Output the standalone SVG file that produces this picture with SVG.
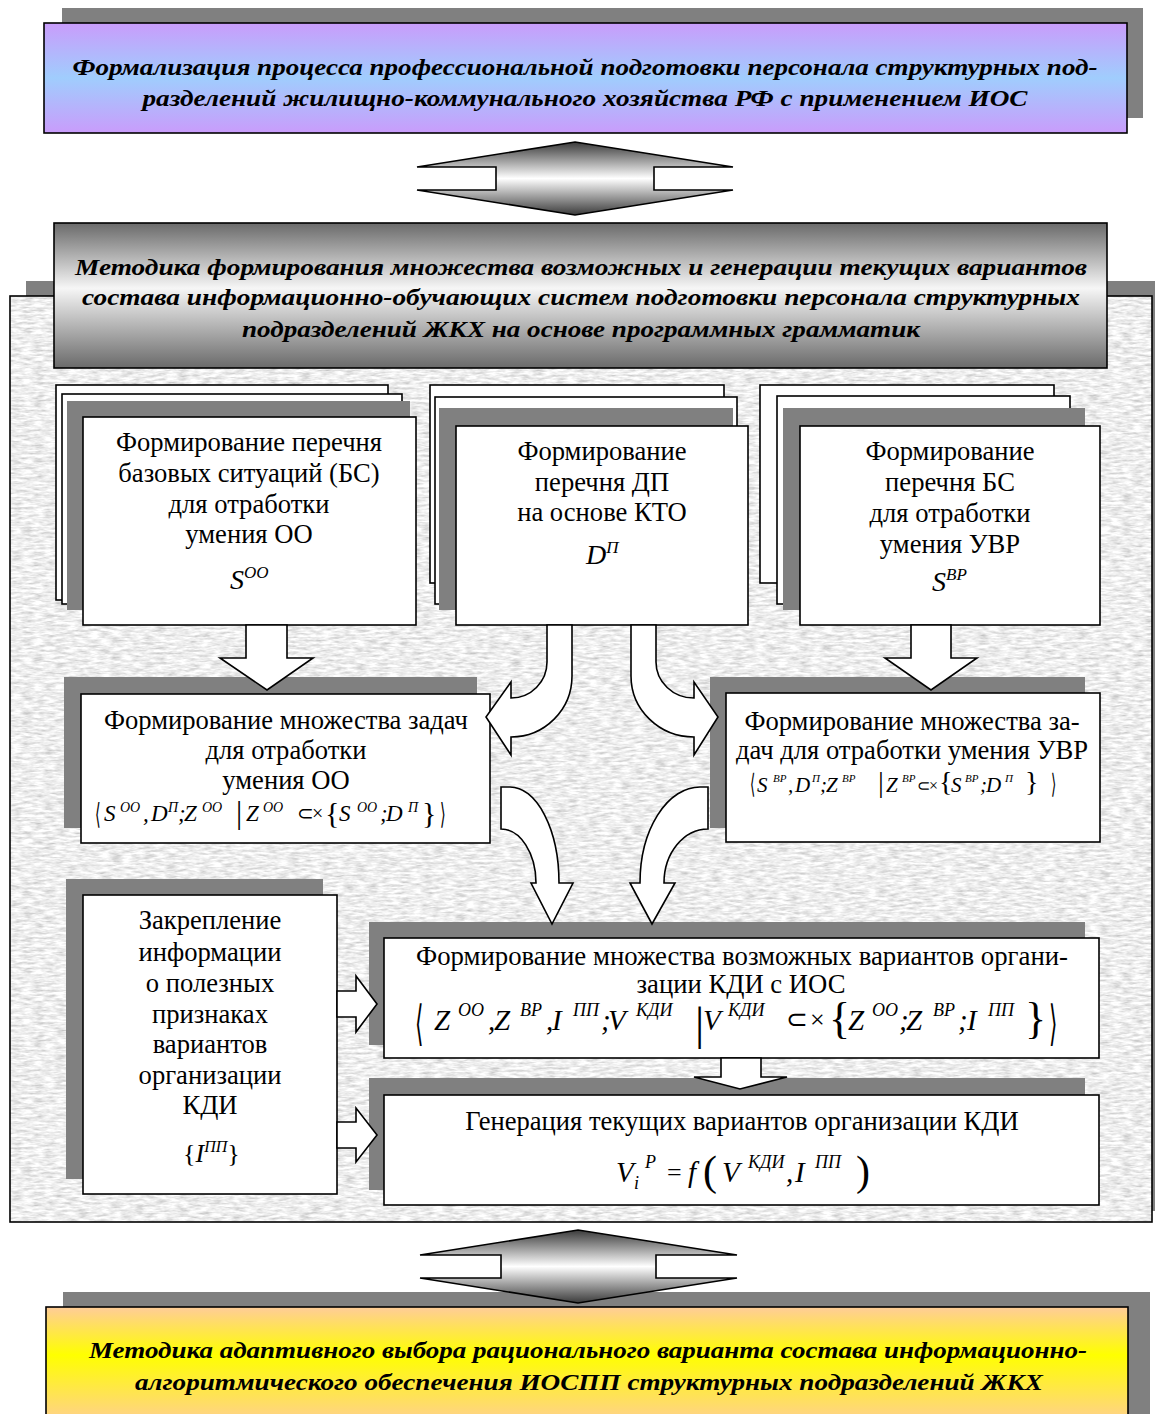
<svg xmlns="http://www.w3.org/2000/svg" width="1155" height="1414" viewBox="0 0 1155 1414">
<defs>
<style>
.box{fill:#fff;stroke:#000;stroke-width:1.6}
.sh{fill:#808080}
.ar{fill:#fff;stroke:#000;stroke-width:1.6;stroke-linejoin:miter}
.t{font-family:"Liberation Serif","Times New Roman",serif;font-size:26.6px;text-anchor:middle;fill:#000}
.bi{font-family:"Liberation Serif","Times New Roman",serif;font-size:24px;font-weight:bold;font-style:italic;text-anchor:middle;fill:#000}
.m{font-family:"Liberation Serif","Times New Roman",serif;font-style:italic;fill:#000}
.u{font-family:"Liberation Serif","Times New Roman",serif;font-style:normal;fill:#000}
.br{font-family:"DejaVu Serif",serif;font-style:normal;fill:#000}
</style>
<linearGradient id="gTop" x1="0" y1="0" x2="0" y2="1">
<stop offset="0" stop-color="#c99cfb"/><stop offset="0.5" stop-color="#a0cdfd"/><stop offset="1" stop-color="#c99cfb"/>
</linearGradient>
<linearGradient id="gGray" x1="0" y1="0" x2="0" y2="1">
<stop offset="0" stop-color="#6a6a6a"/><stop offset="0.45" stop-color="#f6f6f6"/><stop offset="1" stop-color="#6a6a6a"/>
</linearGradient>
<linearGradient id="gBot" x1="0" y1="0" x2="0" y2="1">
<stop offset="0" stop-color="#ffcc99"/><stop offset="0.4" stop-color="#ffff00"/><stop offset="1" stop-color="#ffcc99"/>
</linearGradient>
<linearGradient id="gArr" x1="0" y1="0" x2="0" y2="1">
<stop offset="0" stop-color="#3a3a3a"/><stop offset="0.5" stop-color="#ffffff"/><stop offset="1" stop-color="#3a3a3a"/>
</linearGradient>
<filter id="tex" x="0" y="0" width="1" height="1">
<feTurbulence type="fractalNoise" baseFrequency="0.09 0.4" numOctaves="3" seed="4" result="n"/>
<feColorMatrix in="n" type="matrix" values="0.75 0 0 0 0.48  0.75 0 0 0 0.48  0.75 0 0 0 0.48  0 0 0 0 1" result="g"/>
<feComposite in="g" in2="SourceGraphic" operator="in"/>
</filter>
</defs>

<g id="panel">
<rect class="sh" x="26" y="281" width="1129" height="930"/>
<rect x="10" y="296" width="1142" height="926" fill="#d9d9d9" filter="url(#tex)"/>
<rect x="10" y="296" width="1142" height="926" fill="none" stroke="#000" stroke-width="1.6"/>
</g>

<g id="top">
<rect class="sh" x="62" y="8" width="1081" height="110"/>
<rect x="44" y="23" width="1083" height="110" fill="url(#gTop)" stroke="#000" stroke-width="1.6"/>
<text class="bi" x="585" y="75" textLength="1025" lengthAdjust="spacingAndGlyphs">Формализация процесса профессиональной подготовки персонала структурных под-</text>
<text class="bi" x="585" y="106" textLength="885" lengthAdjust="spacingAndGlyphs">разделений жилищно-коммунального хозяйства РФ с применением ИОС</text>
</g>

<g id="method">
<rect x="54" y="223" width="1053" height="145" fill="url(#gGray)" stroke="#000" stroke-width="1.6"/>
<text class="bi" x="581" y="275" textLength="1012" lengthAdjust="spacingAndGlyphs">Методика формирования множества возможных и генерации текущих  вариантов</text>
<text class="bi" x="581" y="305" textLength="998" lengthAdjust="spacingAndGlyphs">состава  информационно-обучающих систем подготовки персонала структурных</text>
<text class="bi" x="581" y="337" textLength="678" lengthAdjust="spacingAndGlyphs">подразделений ЖКХ на основе программных грамматик</text>
</g>

<g id="node-bs-oo">
<rect class="box" x="56" y="385" width="332" height="215"/>
<rect class="box" x="62" y="394" width="340" height="210"/>
<rect class="sh" x="67" y="401" width="343" height="209"/>
<rect class="box" x="83" y="417" width="333" height="208"/>
<text class="t" x="249" y="451">Формирование перечня</text>
<text class="t" x="249" y="482">базовых ситуаций (БС)</text>
<text class="t" x="249" y="513">для отработки</text>
<text class="t" x="249" y="543">умения ОО</text>
<text class="m" x="230" y="589" font-size="28">S<tspan font-size="17" dy="-11">OO</tspan></text>
</g>

<g id="node-dp">
<rect class="box" x="430" y="385" width="294" height="198"/>
<rect class="box" x="435" y="397" width="302" height="207"/>
<rect class="sh" x="439" y="408" width="294" height="202"/>
<rect class="box" x="456" y="426" width="292" height="199"/>
<text class="t" x="602" y="460">Формирование</text>
<text class="t" x="602" y="491">перечня ДП</text>
<text class="t" x="602" y="521">на основе КТО</text>
<text class="m" x="586" y="564" font-size="28">D<tspan font-size="17" dy="-11">П</tspan></text>
</g>

<g id="node-bs-vr">
<rect class="box" x="760" y="385" width="294" height="198"/>
<rect class="box" x="777" y="396" width="293" height="208"/>
<rect class="sh" x="783" y="408" width="302" height="202"/>
<rect class="box" x="800" y="426" width="300" height="199"/>
<text class="t" x="950" y="460">Формирование</text>
<text class="t" x="950" y="491">перечня БС</text>
<text class="t" x="950" y="522">для отработки</text>
<text class="t" x="950" y="553">умения УВР</text>
<text class="m" x="932" y="591" font-size="28">S<tspan font-size="17" dy="-11">ВР</tspan></text>
</g>

<g id="node-tasks-oo">
<rect class="sh" x="64" y="677" width="413" height="151"/>
<rect class="box" x="81" y="694" width="409" height="149"/>
<text class="t" x="286" y="729">Формирование множества задач</text>
<text class="t" x="286" y="759">для отработки</text>
<text class="t" x="286" y="789">умения ОО</text>
<text class="br" transform="translate(95,824) scale(0.5,1)" font-size="29">⟨</text>
<text class="m" font-size="23"><tspan x="104" y="821">S</tspan><tspan x="120" y="812" font-size="14">OO</tspan><tspan x="143" y="821">,</tspan><tspan x="151" y="821">D</tspan><tspan x="168" y="812" font-size="14">П</tspan><tspan x="178" y="821">;</tspan><tspan x="184" y="821">Z</tspan><tspan x="202" y="812" font-size="14">OO</tspan><tspan x="246" y="821">Z</tspan><tspan x="263" y="812" font-size="14">OO</tspan><tspan x="339" y="821">S</tspan><tspan x="357" y="812" font-size="14">OO</tspan><tspan x="380" y="821">;</tspan><tspan x="386" y="821">D</tspan><tspan x="408" y="812" font-size="14">П</tspan></text>
<text class="u" font-size="20"><tspan x="236" y="823" font-size="31">|</tspan><tspan x="297" y="820">⊂</tspan><tspan x="312" y="820">×</tspan><tspan x="325" y="823" font-size="30">{</tspan><tspan x="422" y="823" font-size="30">}</tspan></text>
<text class="br" transform="translate(440,824) scale(0.5,1)" font-size="29">⟩</text>
</g>

<g id="node-tasks-vr">
<rect class="sh" x="710" y="677" width="375" height="151"/>
<rect class="box" x="726" y="693" width="374" height="149"/>
<text class="t" x="912" y="730">Формирование множества за-</text>
<text class="t" x="912" y="759">дач для отработки умения УВР</text>
<text class="br" transform="translate(750,793) scale(0.5,1)" font-size="27">⟨</text>
<text class="m" font-size="21"><tspan x="757" y="792">S</tspan><tspan x="773" y="782" font-size="11">ВР</tspan><tspan x="788" y="792">,</tspan><tspan x="795" y="792">D</tspan><tspan x="812" y="782" font-size="11">П</tspan><tspan x="820" y="792">;</tspan><tspan x="826" y="792">Z</tspan><tspan x="842" y="782" font-size="11">ВР</tspan><tspan x="886" y="792">Z</tspan><tspan x="902" y="782" font-size="11">ВР</tspan><tspan x="951" y="792">S</tspan><tspan x="965" y="782" font-size="11">ВР</tspan><tspan x="980" y="792">;</tspan><tspan x="986" y="792">D</tspan><tspan x="1005" y="782" font-size="11">П</tspan></text>
<text class="u" font-size="16"><tspan x="917" y="791">⊂</tspan><tspan x="929" y="791">×</tspan></text>
<text class="u" font-size="28"><tspan x="878" y="792" font-size="29">|</tspan><tspan x="939" y="791">{</tspan><tspan x="1025" y="791">}</tspan></text>
<text class="br" transform="translate(1051,793) scale(0.5,1)" font-size="27">⟩</text>
</g>

<g id="node-info">
<rect class="sh" x="66" y="879" width="257" height="300"/>
<rect class="box" x="83" y="895" width="254" height="299"/>
<text class="t" x="210" y="929">Закрепление</text>
<text class="t" x="210" y="961">информации</text>
<text class="t" x="210" y="992">о полезных</text>
<text class="t" x="210" y="1023">признаках</text>
<text class="t" x="210" y="1053">вариантов</text>
<text class="t" x="210" y="1084">организации</text>
<text class="t" x="210" y="1114">КДИ</text>
<text class="m" x="183" y="1162" font-size="26"><tspan class="u">{</tspan>I<tspan font-size="16" dy="-10">ПП</tspan><tspan class="u" dy="10">}</tspan></text>
</g>

<g id="node-variants">
<rect class="sh" x="369" y="922" width="716" height="123"/>
<rect class="box" x="384" y="938" width="715" height="120"/>
<text class="t" x="742" y="965" font-size="25" textLength="652" lengthAdjust="spacingAndGlyphs">Формирование множества возможных вариантов органи-</text>
<text class="t" x="741" y="993" font-size="25" textLength="209" lengthAdjust="spacingAndGlyphs">зации КДИ с ИОС</text>
<text class="br" transform="translate(415,1040) scale(0.45,1)" font-size="48">⟨</text>
<text class="m" font-size="29"><tspan x="434" y="1030">Z</tspan><tspan x="458" y="1016" font-size="18">OO</tspan><tspan x="488" y="1030">,</tspan><tspan x="494" y="1030">Z</tspan><tspan x="520" y="1016" font-size="18">BP</tspan><tspan x="546" y="1030">,</tspan><tspan x="552" y="1030">I</tspan><tspan x="573" y="1016" font-size="18">ПП</tspan><tspan x="601" y="1030">;</tspan><tspan x="608" y="1030">V</tspan><tspan x="636" y="1016" font-size="18">КДИ</tspan><tspan x="703" y="1030">V</tspan><tspan x="728" y="1016" font-size="18">КДИ</tspan><tspan x="848" y="1030">Z</tspan><tspan x="872" y="1016" font-size="18">OO</tspan><tspan x="899" y="1030">;</tspan><tspan x="906" y="1030">Z</tspan><tspan x="933" y="1016" font-size="18">BP</tspan><tspan x="958" y="1030">;</tspan><tspan x="967" y="1030">I</tspan><tspan x="988" y="1016" font-size="18">ПП</tspan></text>
<text class="u" font-size="26"><tspan x="695" y="1039" font-size="46">|</tspan><tspan x="786" y="1028">⊂</tspan><tspan x="810" y="1028">×</tspan><tspan x="829" y="1033" font-size="44">{</tspan><tspan x="1025" y="1033" font-size="44">}</tspan></text>
<text class="br" transform="translate(1049,1040) scale(0.45,1)" font-size="48">⟩</text>
</g>

<g id="node-generation">
<rect class="sh" x="369" y="1078" width="716" height="112"/>
<rect class="box" x="384" y="1095" width="715" height="110"/>
<text class="t" x="742" y="1130">Генерация текущих вариантов организации КДИ</text>
<text class="m" font-size="29"><tspan x="616" y="1182">V</tspan><tspan x="634" y="1189" font-size="18">i</tspan><tspan x="645" y="1168" font-size="18">P</tspan><tspan x="688" y="1182">f</tspan><tspan x="722" y="1182">V</tspan><tspan x="748" y="1168" font-size="18">КДИ</tspan><tspan x="786" y="1182">,</tspan><tspan x="795" y="1182">I</tspan><tspan x="815" y="1168" font-size="18">ПП</tspan></text>
<text class="u" font-size="26"><tspan x="667" y="1181">=</tspan><tspan x="703" y="1185" font-size="42">(</tspan><tspan x="856" y="1185" font-size="42">)</tspan></text>
</g>

<g id="bottom">
<rect class="sh" x="63" y="1292" width="1087" height="130"/>
<rect x="46" y="1307" width="1082" height="120" fill="url(#gBot)" stroke="#000" stroke-width="1.6"/>
<text class="bi" x="588" y="1358" textLength="998" lengthAdjust="spacingAndGlyphs">Методика адаптивного выбора рационального варианта состава информационно-</text>
<text class="bi" x="589" y="1390" textLength="908" lengthAdjust="spacingAndGlyphs">алгоритмического обеспечения ИОСПП структурных подразделений ЖКХ</text>
</g>

<g id="connectors">
<path d="M575,142 L733,167 L654,167 L654,190 L733,190 L575,215 L417,190 L496,190 L496,167 L417,167 Z" fill="url(#gArr)" stroke="#000" stroke-width="1.6"/>
<path d="M578,1230 L737,1255 L656,1255 L656,1278 L737,1278 L578,1303 L420,1278 L501,1278 L501,1255 L420,1255 Z" fill="url(#gArr)" stroke="#000" stroke-width="1.6"/>
<path class="ar" d="M246,625 L287,625 L287,658 L313,658 L267,690 L220,658 L246,658 Z"/>
<path class="ar" d="M911,625 L951,625 L951,658 L977,658 L931,690 L885,658 L911,658 Z"/>
<path class="ar" d="M547,625 L547,662 A36,36 0 0 1 511,698 L511,682 L486,717 L511,755 L511,737 A61,61 0 0 0 572,676 L572,625 Z"/>
<path class="ar" d="M656,625 L656,662 A38,36 0 0 0 694,698 L694,682 L718,717 L694,755 L694,737 A63,61 0 0 1 631,676 L631,625 Z"/>
<path class="ar" d="M501,787 L510,787 A49,96 0 0 1 559,883 L573,883 L552,924 L531,883 L536,883 A35,54 0 0 0 501,829 Z"/>
<path class="ar" d="M708,787 L700,787 A60,96 0 0 0 640,883 L630,883 L652,924 L675,883 L664,883 A44,54 0 0 1 708,829 Z"/>
<path class="ar" d="M337,991 L356,991 L356,976 L377,1004 L356,1032 L356,1017 L337,1017 Z"/>
<path class="ar" d="M337,1122 L356,1122 L356,1108 L377,1135 L356,1162 L356,1148 L337,1148 Z"/>
<path class="ar" d="M721,1058 L761,1058 L761,1077 L787,1077 L740,1089 L694,1077 L721,1077 Z"/>
</g>
</svg>
